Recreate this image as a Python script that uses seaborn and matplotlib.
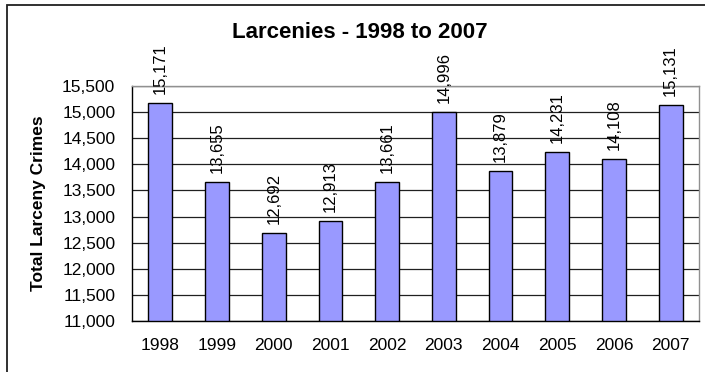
import matplotlib
matplotlib.use("Agg")
import matplotlib.pyplot as plt
import matplotlib.ticker as mticker
from matplotlib.patches import Rectangle
import seaborn as sns
import pandas as pd

years = ["1998", "1999", "2000", "2001", "2002", "2003", "2004", "2005", "2006", "2007"]
larcenies = [15171, 13655, 12692, 12913, 13661, 14996, 13879, 14231, 14108, 15131]
y_ticks = [11000, 11500, 12000, 12500, 13000, 13500, 14000, 14500, 15000, 15500]

df = pd.DataFrame({"Year": years, "Larcenies": larcenies})

sns.set_theme(style="white")
plt.rcParams["font.family"] = ["Liberation Sans", "DejaVu Sans"]

fig = plt.figure(figsize=(7.05, 3.72), dpi=100)
ax = fig.add_axes([132 / 705, 1 - 321 / 372, 567 / 705, 235 / 372])

sns.barplot(data=df, x="Year", y="Larcenies", order=years, color="#9999FF",
            edgecolor="black", linewidth=1.0, width=0.42, saturation=1, ax=ax)

ax.set_ylim(y_ticks[0], y_ticks[-1])
ax.set_xlim(-0.5, len(years) - 0.5)
ax.set_yticks(y_ticks)
ax.yaxis.set_major_formatter(mticker.FuncFormatter(lambda v, p: f"{int(v):,}"))

# category ticks sit between the bars
ax.set_xticks([i - 0.5 for i in range(len(years) + 1)], minor=False)
ax.set_xticklabels([])
ax.set_xticks(range(len(years)), minor=True)
ax.set_xticklabels(years, minor=True)
ax.tick_params(axis="x", which="major", direction="out", length=4, width=1, color="black")
ax.tick_params(axis="x", which="minor", length=0, pad=12, labelsize=12.5, labelcolor="black")
ax.tick_params(axis="y", direction="out", length=6, width=1, color="black",
               pad=6, labelsize=12.5, labelcolor="black")

ax.grid(axis="y", color="#202020", linewidth=0.9)
ax.set_axisbelow(True)
for side in ("left", "bottom"):
    ax.spines[side].set_color("black")
    ax.spines[side].set_linewidth(1.0)
for side in ("top", "right"):
    ax.spines[side].set_color("#909090")
    ax.spines[side].set_linewidth(1.0)

ax.set_xlabel("")
ax.set_ylabel("Total Larceny Crimes", fontsize=12.5, fontweight="bold", color="black")
ax.yaxis.set_label_coords(-0.152, 0.5)

for i, v in enumerate(larcenies):
    ax.annotate(f"{v:,}", xy=(i, v), xytext=(0, 6.5), textcoords="offset points",
                rotation=90, ha="center", va="bottom", fontsize=12,
                color="black", annotation_clip=False)

fig.text(0.511, 0.912, "Larcenies - 1998 to 2007", ha="center", va="center",
         fontsize=16, fontweight="bold", color="black")

# chart frame
fig.patches.append(Rectangle((7 / 705, -0.2), 1.5, 0.2 + 1 - 5 / 372,
                             transform=fig.transFigure, fill=False,
                             edgecolor="#202020", linewidth=1.3))

fig.savefig("out.png", dpi=100, facecolor="white")
